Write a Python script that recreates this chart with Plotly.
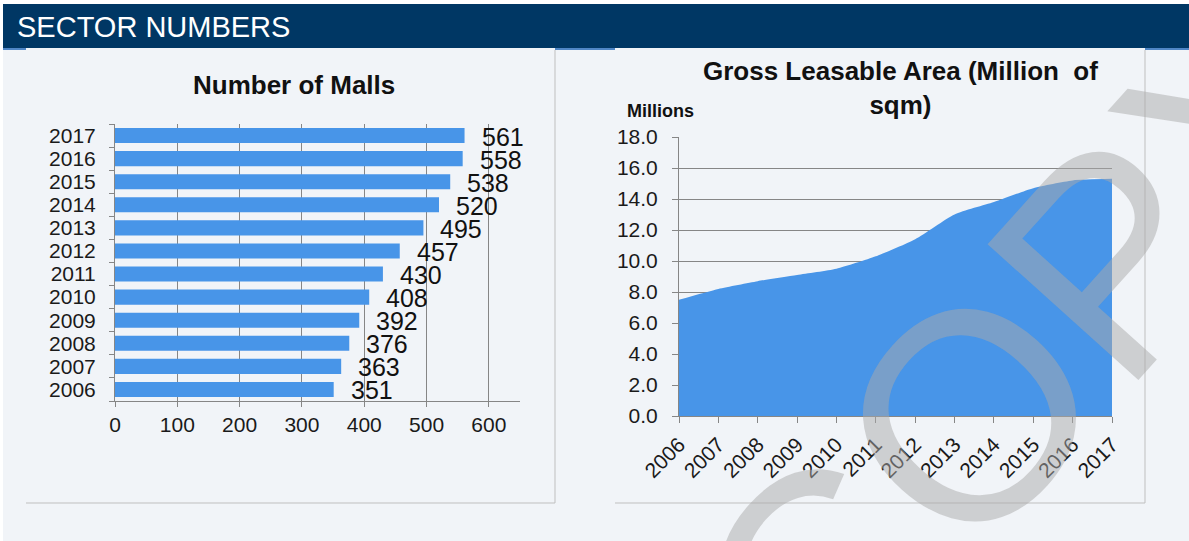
import plotly.graph_objects as go

W, H = 1189, 541

# Number of malls per year
mall_years = ["2006", "2007", "2008", "2009", "2010", "2011",
              "2012", "2013", "2014", "2015", "2016", "2017"]
mall_counts = [351, 363, 376, 392, 408, 430, 457, 495, 520, 538, 558, 561]

# Gross leasable area, million sqm
gla_years = [2006, 2007, 2008, 2009, 2010, 2011,
             2012, 2013, 2014, 2015, 2016, 2017]
gla_values = [7.5, 8.2, 8.7, 9.1, 9.5, 10.3, 11.4, 13.0, 13.8, 14.7, 15.2, 15.3]

BLUE = "#4895E8"
GRID = "#868686"
FONT = "Arial, Liberation Sans, sans-serif"
BG = "#F1F4F8"


def fx(x):
    return x / W


def fy(y):
    return 1 - y / H


fig = go.Figure()

fig.add_trace(go.Bar(
    x=mall_counts, y=mall_years, orientation="h",
    marker=dict(color=BLUE, line=dict(width=0)),
    xaxis="x", yaxis="y", hoverinfo="x+y",
))

fig.add_trace(go.Scatter(
    x=gla_years, y=gla_values, mode="lines",
    line=dict(color=BLUE, width=0, shape="spline", smoothing=0.6),
    fill="tozeroy", fillcolor=BLUE,
    xaxis="x2", yaxis="y2",
))

tick_font = dict(family=FONT, size=21, color="#1a1a1a")

fig.update_layout(
    template="none",
    width=W, height=H,
    margin=dict(l=0, r=0, t=0, b=0, pad=0, autoexpand=False),
    paper_bgcolor=BG, plot_bgcolor="rgba(0,0,0,0)",
    showlegend=False,
    bargap=0.35,
    xaxis=dict(
        domain=[fx(115), fx(520)], anchor="y", automargin=False,
        range=[0, 650], tickmode="linear", dtick=100, tick0=0,
        showgrid=True, gridcolor=GRID, gridwidth=1,
        zeroline=False, showline=True, linecolor=GRID, linewidth=1,
        ticks="outside", ticklen=5, tickcolor=GRID,
        tickfont=tick_font, fixedrange=True,
    ),
    yaxis=dict(
        domain=[fy(401), fy(124)], anchor="x", automargin=False,
        type="category", categoryorder="array", categoryarray=mall_years,
        range=[-0.5, 11.5], tickmode="linear", tick0=0, dtick=1,
        showgrid=False, zeroline=False,
        showline=True, linecolor=GRID, linewidth=1,
        ticks="outside", ticklen=5, tickcolor=GRID, tickson="boundaries",
        ticklabelstandoff=14,
        tickfont=tick_font, fixedrange=True,
    ),
    xaxis2=dict(
        domain=[fx(679), fx(1112)], anchor="y2", automargin=False,
        range=[2006, 2017], tickmode="array", tickvals=gla_years,
        ticktext=[str(v) for v in gla_years],
        tickangle=-45, ticklabelstandoff=1,
        showgrid=False, zeroline=False,
        showline=True, linecolor=GRID, linewidth=1,
        ticks="outside", ticklen=6, tickcolor=GRID,
        tickfont=tick_font, fixedrange=True,
    ),
    yaxis2=dict(
        domain=[fy(416), fy(137)], anchor="x2", automargin=False,
        range=[0, 18], tickmode="linear", tick0=0, dtick=2, tickformat=".1f",
        showgrid=True, gridcolor=GRID, gridwidth=1,
        zeroline=False, showline=True, linecolor=GRID, linewidth=1,
        ticks="outside", ticklen=6, tickcolor=GRID,
        ticklabelstandoff=10,
        tickfont=tick_font, fixedrange=True,
    ),
)

shapes = []
# page corners and header band
shapes.append(dict(type="rect", xref="paper", yref="paper",
                   x0=0, x1=1, y0=fy(4), y1=1,
                   fillcolor="white", line=dict(width=0), layer="below"))
shapes.append(dict(type="rect", xref="paper", yref="paper",
                   x0=0, x1=fx(3), y0=0, y1=1,
                   fillcolor="white", line=dict(width=0), layer="below"))
shapes.append(dict(type="rect", xref="paper", yref="paper",
                   x0=fx(3), x1=1, y0=fy(48), y1=fy(4),
                   fillcolor="#003764", line=dict(width=0), layer="below"))
for a, b in [(3, 26), (555, 615), (1145, 1189)]:
    shapes.append(dict(type="line", xref="paper", yref="paper",
                       x0=fx(a), x1=fx(b), y0=fy(49), y1=fy(49),
                       line=dict(color="#4F86C6", width=2), layer="below"))
# panel frames
PANEL = "#BFBFBF"
for left, right in [(26, 555), (615, 1145)]:
    shapes.append(dict(type="line", xref="paper", yref="paper",
                       x0=fx(right), x1=fx(right), y0=fy(503), y1=fy(50),
                       line=dict(color=PANEL, width=1), layer="below"))
    shapes.append(dict(type="line", xref="paper", yref="paper",
                       x0=fx(left), x1=fx(right), y0=fy(503), y1=fy(503),
                       line=dict(color=PANEL, width=1), layer="below"))
fig.update_layout(shapes=shapes)

annotations = [
    dict(text="SECTOR NUMBERS", xref="paper", yref="paper",
         x=fx(15), y=fy(27), xanchor="left", yanchor="middle",
         showarrow=False, font=dict(family=FONT, size=29, color="white")),
    dict(text="<b>Number of Malls</b>", xref="paper", yref="paper",
         x=fx(294), y=fy(85), xanchor="center", yanchor="middle",
         showarrow=False, font=dict(family=FONT, size=26, color="#111111")),
    dict(text="<b>Gross Leasable Area (Million\u00a0 of<br>sqm)</b>",
         xref="paper", yref="paper",
         x=fx(900), y=fy(88), xanchor="center", yanchor="middle",
         showarrow=False, font=dict(family=FONT, size=26, color="#111111")),
    dict(text="<b>Millions</b>", xref="paper", yref="paper",
         x=fx(625), y=fy(111), xanchor="left", yanchor="middle",
         showarrow=False, font=dict(family=FONT, size=18, color="#111111")),
]

# value labels next to each bar (category axis positions are serial indices)
for idx, v in enumerate(mall_counts):
    annotations.append(dict(
        text=str(v), x=v, y=idx, xref="x", yref="y",
        xanchor="left", yanchor="middle", xshift=15, yshift=-1,
        showarrow=False, font=dict(family=FONT, size=25, color="#111111"),
    ))

# watermark
annotations.append(dict(
    text="COPY", xref="paper", yref="paper",
    x=fx(1030), y=fy(348), xanchor="center", yanchor="middle",
    textangle=-48, showarrow=False,
    font=dict(family=FONT, size=295, color="rgba(170,170,170,0.5)"),
))

fig.update_layout(annotations=annotations)

fig.write_html("out.html")
